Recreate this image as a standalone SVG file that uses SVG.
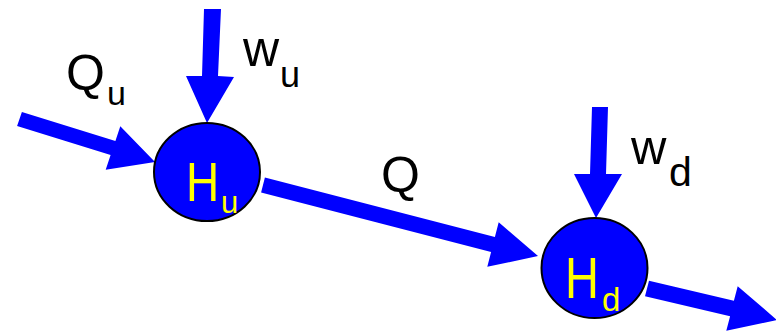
<svg xmlns="http://www.w3.org/2000/svg" width="776" height="331" viewBox="0 0 776 331">
<style>
.arr{fill:#0000ff;stroke:none}
.node{fill:#0000ff;stroke:#000;stroke-width:2}
.lbl{font-family:"Liberation Sans",Arial,sans-serif;fill:#000}
.nl{font-family:"Liberation Sans",Arial,sans-serif;fill:#ffff00}
</style>
<rect width="776" height="331" fill="#fff"/>
<g id="connectors">
<polygon class="arr" points="21.9,111.9 115.4,140.9 120.3,126.2 155,162 105.7,169.8 110.6,155.1 17.1,126.1"/>
<polygon class="arr" points="204,9 221,9 218,76 234,77 207,123 186,76 202,76"/>
<polygon class="arr" points="264.9,177.5 494.9,237 498.7,222.2 538,256 487.3,266.8 491.1,252 261.1,192.5"/>
<polygon class="arr" points="592,107 608,107 606,174 622,174 596,218 574,174 590,174"/>
<polygon class="arr" points="649,280.8 733.9,300.8 737.7,286.2 777,320 726.3,330.8 730.1,316.2 645,296.2"/>
</g>
<g id="labels">
<text class="lbl" x="66" y="90" font-size="50">Q</text>
<text class="lbl" x="107" y="105" font-size="34">u</text>
<text class="lbl" x="243" y="66" font-size="50">w</text>
<text class="lbl" x="280" y="87" font-size="36">u</text>
<text class="lbl" x="381" y="192" font-size="50">Q</text>
<text class="lbl" x="631" y="164" font-size="49">w</text>
<text class="lbl" x="669" y="186" font-size="41">d</text>
</g>
<g id="Hu">
<ellipse class="node" cx="207" cy="172" rx="53" ry="49"/>
<text class="nl" transform="translate(186,201) scale(1,1.22)" font-size="46">H</text>
<text class="nl" x="221" y="213" font-size="31">u</text>
</g>
<g id="Hd">
<ellipse class="node" cx="594.5" cy="268" rx="53" ry="50"/>
<text class="nl" transform="translate(565,298) scale(1,1.22)" font-size="47">H</text>
<text class="nl" x="602" y="311" font-size="33">d</text>
</g>
</svg>
